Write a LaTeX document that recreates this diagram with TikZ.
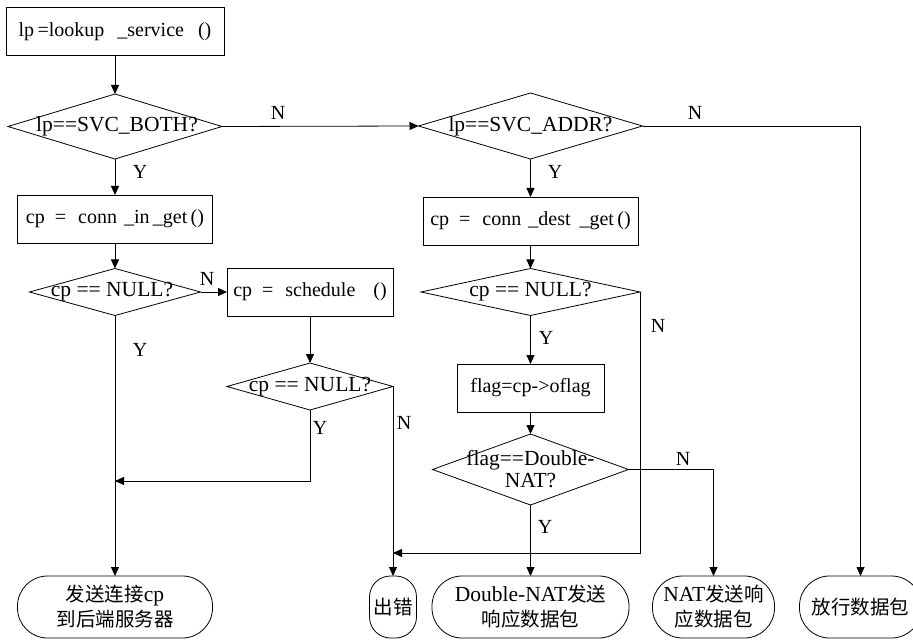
\documentclass[tikz,border=0pt]{standalone}
\usepackage{fontspec}
\setmainfont{Liberation Serif}
\newfontfamily\cjk{Noto Sans CJK SC}
\usetikzlibrary{shapes.geometric,arrows.meta}
\newcommand\zh[1]{{\cjk\fontsize{19.5}{25}\selectfont #1}}
\newcommand\gp[1]{\hspace{#1em}}
\begin{document}
\begin{tikzpicture}[x=1pt,y=-1pt,
  every node/.style={font=\fontsize{21.5}{25}\selectfont, inner sep=0pt, outer sep=0pt},
  procbox/.style={draw, line width=0.8pt, minimum width=#1, minimum height=48, font=\fontsize{20}{24}\selectfont},
  decide/.style={draw, line width=0.8pt, shape=diamond, minimum width=#1},
  termbox/.style={draw, line width=0.8pt, minimum width=#1, minimum height=62, align=center},
  lbl/.style={font=\fontsize{20}{22}\selectfont},
  arr/.style={line width=0.8pt, -{Triangle[length=9pt,width=8pt]}},
  ln/.style={line width=0.8pt}
]
\clip (0,0) rectangle (913,644);
\fill[white] (0,0) rectangle (913,644);

% left column
\node[procbox=218] (b1) at (115,31.5) {lp\,=lookup\gp{.65}\_service\gp{.7}()};
\node[decide=214, minimum height=65] (d1) at (115,126.5) {};
\node (d1t) at (117,126.5) {lp==SVC\_BOTH?};
\node[procbox=195] (b2) at (115,219) {cp\gp{.5}=\gp{.6}conn\gp{.35}\_in\,\_get\,()};
\node[decide=171, minimum height=47] (d3) at (115,292) {};
\node (d3t) at (112,292) {cp == NULL?};
\node[termbox=195, rounded corners=30] (t1) at (115,607) {\zh{发送连接}cp\\\zh{到后端服务器}};

% schedule column
\node[procbox=166] (b4) at (310,292) {cp\gp{.5}=\gp{.6}schedule\gp{.9}()};
\node[decide=166, minimum height=47] (d4) at (310,386.5) {};
\node (d4t) at (310,386.5) {cp == NULL?};
\node[termbox=47, rounded corners=21] (t2) at (393,607) {\zh{出错}};
\coordinate (jn1) at (115,481);
\coordinate (jn2) at (393,553);

% right column
\node[decide=224, minimum height=66] (d2) at (530.5,126) {};
\node (d2t) at (530.5,126) {lp==SVC\_ADDR?};
\node[procbox=215] (b3) at (530.5,221) {cp\gp{.5}=\gp{.6}conn\gp{.35}\_dest\gp{.45}\_get\,()};
\node[decide=219, minimum height=47] (d5) at (530.5,292) {};
\node (d5t) at (530.5,292) {cp == NULL?};
\node[procbox=147] (b5) at (530.5,388) {flag=cp->oflag};
\node[decide=196, minimum height=71] (d6) at (530.5,469.5) {};
\node[align=center, font=\fontsize{21.5}{22}\selectfont] (d6t) at (530.5,469.5) {flag==Double-\\NAT?};
\node[termbox=197, rounded corners=30] (t3) at (530.5,607) {Double-NAT\zh{发送}\\\zh{响应数据包}};
\node[termbox=122, rounded corners=30] (t4) at (713.5,607) {NAT\zh{发送响}\\\zh{应数据包}};
\node[termbox=122, rounded corners=30] (t5) at (860.5,607) {\zh{放行数据包}};

% connectors
\draw[arr] (b1.south) -- (d1.north);
\draw[arr] (d1.east) -- (d2.west);
\draw[arr] (d1.south) -- (b2.north);
\draw[arr] (b2.south) -- (d3.north);
\draw[arr] (d3.east) -- (b4.west);
\draw[arr] (d3.south) -- (t1.north);
\draw[arr] (b4.south) -- (d4.north);
\draw[arr] (d4.south) |- (jn1);
\draw[arr] (d4.east) -| (t2.north);
\draw[arr] (d2.south) -- (b3.north);
\draw[arr] (b3.south) -- (d5.north);
\draw[arr] (d5.south) -- (b5.north);
\draw[arr] (b5.south) -- (d6.north);
\draw[arr] (d5.east) |- (jn2);
\draw[arr] (d6.south) -- (t3.north);
\draw[arr] (d6.east) -| (t4.north);
\draw[arr] (d2.east) -| (t5.north);

% labels
\node[lbl] (n1) at (278,113) {N};
\node[lbl] (y1) at (140,172) {Y};
\node[lbl] (n2) at (695,113) {N};
\node[lbl] (y2) at (555,172) {Y};
\node[lbl] (n3) at (207,279) {N};
\node[lbl] (y3) at (140,350) {Y};
\node[lbl] (y4) at (320,428) {Y};
\node[lbl] (n4) at (404,423) {N};
\node[lbl] (n5) at (658,326) {N};
\node[lbl] (y5) at (546,338) {Y};
\node[lbl] (n6) at (683,459) {N};
\node[lbl] (y6) at (545,527) {Y};
\end{tikzpicture}
\end{document}
